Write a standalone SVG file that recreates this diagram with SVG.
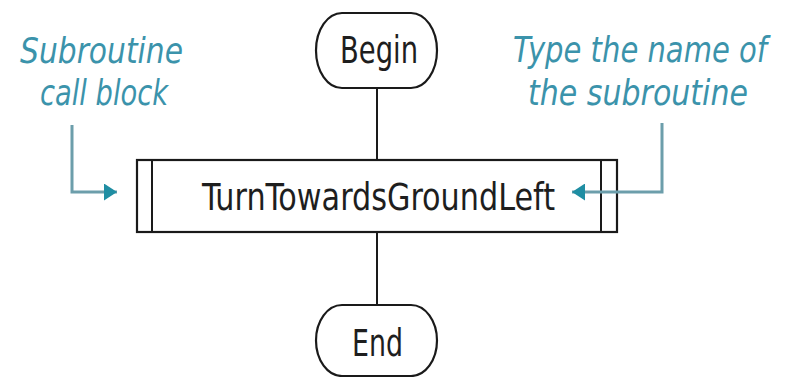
<svg xmlns="http://www.w3.org/2000/svg" width="791" height="377" viewBox="0 0 791 377">
  <defs>
    <style>
      .shape { fill: #ffffff; stroke: #1a1a1a; stroke-width: 2.2; }
      .flow { stroke: #1a1a1a; stroke-width: 2; fill: none; }
      .label { font-family: "DejaVu Sans Condensed", "DejaVu Sans", sans-serif; font-size: 37px; fill: #1e1e1e; }
      .note { font-family: "DejaVu Sans Condensed", "DejaVu Sans", sans-serif; font-style: italic; font-size: 35px; fill: #3b93ab; }
      .callout { stroke: #6c9eab; stroke-width: 3; fill: none; }
    </style>
    <marker id="tealHead" markerWidth="13" markerHeight="17" refX="13" refY="8.5" orient="auto" markerUnits="userSpaceOnUse">
      <path d="M0,0 L13,8.5 L0,17 Z" fill="#1f8ea3"/>
    </marker>
  </defs>

  <rect width="791" height="377" fill="#ffffff"/>

  <g id="begin">
    <rect class="shape" x="316" y="13" width="121" height="75" rx="26" ry="37.5"/>
    <text class="label" x="379" y="63" text-anchor="middle" textLength="78" lengthAdjust="spacingAndGlyphs">Begin</text>
  </g>

  <g id="subroutine-call">
    <rect class="shape" x="137" y="160" width="480" height="72"/>
    <line class="flow" x1="152" y1="160" x2="152" y2="232"/>
    <line class="flow" x1="601" y1="160" x2="601" y2="232"/>
    <text class="label" x="202" y="210" textLength="353" lengthAdjust="spacingAndGlyphs">TurnTowardsGroundLeft</text>
  </g>

  <g id="end">
    <rect class="shape" x="316" y="305" width="121" height="71" rx="26" ry="35.5"/>
    <text class="label" x="377.5" y="356" text-anchor="middle" textLength="51" lengthAdjust="spacingAndGlyphs">End</text>
  </g>

  <g id="note-left">
    <text class="note" x="20" y="63" textLength="163" lengthAdjust="spacingAndGlyphs">Subroutine</text>
    <text class="note" x="40" y="105" textLength="128" lengthAdjust="spacingAndGlyphs">call block</text>
  </g>

  <g id="note-right">
    <text class="note" x="513" y="62" textLength="254" lengthAdjust="spacingAndGlyphs">Type the name of</text>
    <text class="note" x="528" y="105" textLength="220" lengthAdjust="spacingAndGlyphs">the subroutine</text>
  </g>

  <!-- connectors drawn last so the callout arrow crosses over the block edge -->
  <g id="connectors">
    <line class="flow" x1="377" y1="88" x2="377" y2="160"/>
    <line class="flow" x1="377" y1="232" x2="377" y2="305"/>
    <path class="callout" d="M72,125 V192 H117" marker-end="url(#tealHead)"/>
    <path class="callout" d="M662,123 V192 H572" marker-end="url(#tealHead)"/>
  </g>
</svg>
